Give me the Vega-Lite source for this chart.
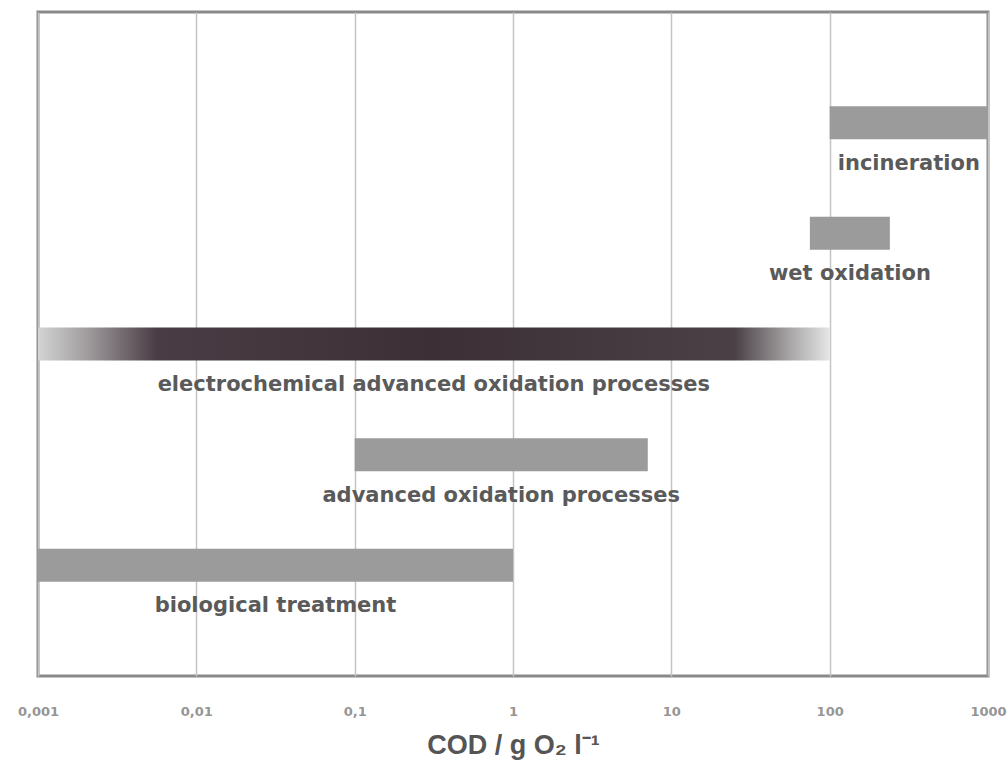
{
  "$schema": "https://vega.github.io/schema/vega-lite/v6.json",
  "width": 950,
  "height": 664,
  "autosize": {"type": "none"},
  "padding": {"left": 38, "top": 12, "right": 20, "bottom": 87},
  "background": "white",
  "config": {
    "view": {"stroke": "#8a8a8a", "strokeWidth": 3},
    "font": "DejaVu Sans"
  },
  "data": {
    "values": [
      {"process": "incineration", "lo": 100, "hi": 1000},
      {"process": "wet oxidation", "lo": 75, "hi": 240},
      {"process": "electrochemical advanced oxidation processes", "lo": 0.001, "hi": 100},
      {"process": "advanced oxidation processes", "lo": 0.1, "hi": 7.1},
      {"process": "biological treatment", "lo": 0.001, "hi": 1}
    ]
  },
  "encoding": {
    "y": {
      "field": "process",
      "type": "nominal",
      "scale": {
        "type": "point",
        "padding": 1.02,
        "domain": ["incineration", "wet oxidation", "electrochemical advanced oxidation processes", "advanced oxidation processes", "biological treatment"]
      },
      "axis": null
    }
  },
  "layer": [
    {
      "transform": [{"filter": "datum.process !== 'electrochemical advanced oxidation processes'"}],
      "mark": {"type": "bar", "height": 33, "color": "#9b9b9b"},
      "encoding": {
        "x": {
          "field": "lo",
          "type": "quantitative",
          "scale": {"type": "log", "domain": [0.001, 1000], "nice": false},
          "axis": {
            "values": [0.001, 0.01, 0.1, 1, 10, 100, 1000],
            "labelExpr": "replace(format(datum.value, '~g'), '.', ',')",
            "labelFlush": false,
            "labelOverlap": false,
            "grid": true,
            "gridColor": "#c4c4c4",
            "gridWidth": 1.5,
            "ticks": false,
            "domain": false,
            "labelPadding": 29,
            "labelFont": "DejaVu Sans",
            "labelFontWeight": "bold",
            "labelFontSize": 13,
            "labelColor": "#959595",
            "title": "COD / g O₂ l⁻¹",
            "titleFont": "Liberation Sans",
            "titleFontWeight": "bold",
            "titleFontSize": 27,
            "titleColor": "#555555",
            "titlePadding": 14
          }
        },
        "x2": {"field": "hi"}
      }
    },
    {
      "transform": [{"filter": "datum.process === 'electrochemical advanced oxidation processes'"}],
      "mark": {
        "type": "bar",
        "height": 33,
        "fill": {
          "gradient": "linear",
          "x1": 0, "y1": 0, "x2": 1, "y2": 0,
          "stops": [
            {"offset": 0, "color": "#d4d4d4"},
            {"offset": 0.06, "color": "#a29ea0"},
            {"offset": 0.15, "color": "#4a3c44"},
            {"offset": 0.5, "color": "#3c3036"},
            {"offset": 0.88, "color": "#4a4046"},
            {"offset": 0.95, "color": "#a8a6a7"},
            {"offset": 1, "color": "#e6e6e6"}
          ]
        }
      },
      "encoding": {
        "x": {"field": "lo", "type": "quantitative"},
        "x2": {"field": "hi"}
      }
    },
    {
      "transform": [{"calculate": "sqrt(datum.lo * datum.hi)", "as": "mid"}],
      "mark": {
        "type": "text",
        "dy": 41,
        "font": "DejaVu Sans",
        "fontWeight": "bold",
        "fontSize": 21,
        "color": "#5a5a5a"
      },
      "encoding": {
        "x": {"field": "mid", "type": "quantitative"},
        "text": {"field": "process"}
      }
    }
  ]
}
